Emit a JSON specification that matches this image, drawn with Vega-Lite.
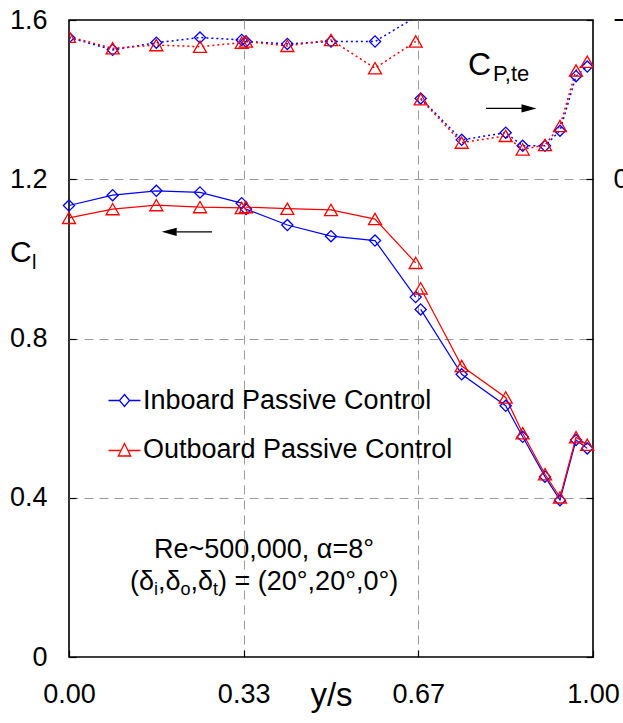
{
  "$schema": "https://vega.github.io/schema/vega-lite/v6.json",
  "width": 524,
  "height": 637,
  "autosize": {"type": "none"},
  "padding": {"left": 69, "top": 20, "right": 30, "bottom": 66},
  "background": "white",
  "config": {
    "font": "Liberation Sans",
    "view": {"stroke": "#000", "strokeWidth": 1.6},
    "axis": {
      "domain": false,
      "labelFont": "Liberation Sans",
      "labelFontSize": 27,
      "labelColor": "#000",
      "labelFlush": false,
      "tickColor": "#000",
      "tickSize": -7,
      "tickWidth": 1.2,
      "gridColor": "#9a9a9a",
      "gridDash": [9, 6],
      "gridWidth": 1,
      "titleFont": "Liberation Sans",
      "titleColor": "#000",
      "titleFontWeight": "normal"
    },
    "legend": {
      "orient": "none",
      "legendX": 42,
      "legendY": 367,
      "title": null,
      "labelFont": "Liberation Sans",
      "labelFontSize": 27,
      "labelColor": "#000",
      "labelLimit": 0,
      "symbolSize": 400,
      "symbolStrokeWidth": 1.3,
      "rowPadding": 21,
      "labelOffset": 5,
      "padding": 0
    }
  },
  "datasets": {
    "cl": [
      {"x": 0, "series": "Inboard Passive Control", "seg": "a", "cl": 1.134},
      {"x": 0.0833, "series": "Inboard Passive Control", "seg": "a", "cl": 1.160},
      {"x": 0.1667, "series": "Inboard Passive Control", "seg": "a", "cl": 1.171},
      {"x": 0.25, "series": "Inboard Passive Control", "seg": "a", "cl": 1.167},
      {"x": 0.3296, "series": "Inboard Passive Control", "seg": "a", "cl": 1.140},
      {"x": 0.3378, "series": "Inboard Passive Control", "seg": "b", "cl": 1.125},
      {"x": 0.4167, "series": "Inboard Passive Control", "seg": "b", "cl": 1.085},
      {"x": 0.5, "series": "Inboard Passive Control", "seg": "b", "cl": 1.057},
      {"x": 0.584, "series": "Inboard Passive Control", "seg": "b", "cl": 1.046},
      {"x": 0.6616, "series": "Inboard Passive Control", "seg": "b", "cl": 0.904},
      {"x": 0.6712, "series": "Inboard Passive Control", "seg": "c", "cl": 0.873},
      {"x": 0.7494, "series": "Inboard Passive Control", "seg": "c", "cl": 0.710},
      {"x": 0.8334, "series": "Inboard Passive Control", "seg": "c", "cl": 0.631},
      {"x": 0.8658, "series": "Inboard Passive Control", "seg": "c", "cl": 0.553},
      {"x": 0.9084, "series": "Inboard Passive Control", "seg": "c", "cl": 0.453},
      {"x": 0.937, "series": "Inboard Passive Control", "seg": "c", "cl": 0.394},
      {"x": 0.9676, "series": "Inboard Passive Control", "seg": "c", "cl": 0.545},
      {"x": 0.989, "series": "Inboard Passive Control", "seg": "c", "cl": 0.524},
      {"x": 0, "series": "Outboard Passive Control", "seg": "a", "cl": 1.103},
      {"x": 0.0833, "series": "Outboard Passive Control", "seg": "a", "cl": 1.125},
      {"x": 0.1667, "series": "Outboard Passive Control", "seg": "a", "cl": 1.135},
      {"x": 0.25, "series": "Outboard Passive Control", "seg": "a", "cl": 1.130},
      {"x": 0.3296, "series": "Outboard Passive Control", "seg": "a", "cl": 1.128},
      {"x": 0.3378, "series": "Outboard Passive Control", "seg": "b", "cl": 1.130},
      {"x": 0.4167, "series": "Outboard Passive Control", "seg": "b", "cl": 1.126},
      {"x": 0.5, "series": "Outboard Passive Control", "seg": "b", "cl": 1.123},
      {"x": 0.584, "series": "Outboard Passive Control", "seg": "b", "cl": 1.100},
      {"x": 0.6616, "series": "Outboard Passive Control", "seg": "b", "cl": 0.990},
      {"x": 0.6712, "series": "Outboard Passive Control", "seg": "c", "cl": 0.926},
      {"x": 0.7494, "series": "Outboard Passive Control", "seg": "c", "cl": 0.731},
      {"x": 0.8334, "series": "Outboard Passive Control", "seg": "c", "cl": 0.652},
      {"x": 0.8658, "series": "Outboard Passive Control", "seg": "c", "cl": 0.562},
      {"x": 0.9084, "series": "Outboard Passive Control", "seg": "c", "cl": 0.459},
      {"x": 0.937, "series": "Outboard Passive Control", "seg": "c", "cl": 0.401},
      {"x": 0.9676, "series": "Outboard Passive Control", "seg": "c", "cl": 0.552},
      {"x": 0.989, "series": "Outboard Passive Control", "seg": "c", "cl": 0.533}
    ],
    "cp": [
      {"x": 0, "series": "Inboard Passive Control", "seg": "a", "cp": -0.356},
      {"x": 0.0833, "series": "Inboard Passive Control", "seg": "a", "cp": -0.325},
      {"x": 0.1667, "series": "Inboard Passive Control", "seg": "a", "cp": -0.343},
      {"x": 0.25, "series": "Inboard Passive Control", "seg": "a", "cp": -0.356},
      {"x": 0.3296, "series": "Inboard Passive Control", "seg": "a", "cp": -0.350},
      {"x": 0.3378, "series": "Inboard Passive Control", "seg": "b", "cp": -0.346},
      {"x": 0.4167, "series": "Inboard Passive Control", "seg": "b", "cp": -0.340},
      {"x": 0.5, "series": "Inboard Passive Control", "seg": "b", "cp": -0.346},
      {"x": 0.584, "series": "Inboard Passive Control", "seg": "b", "cp": -0.346},
      {"x": 0.6712, "series": "Inboard Passive Control", "seg": "b", "cp": -0.415},
      {"x": 0.6712, "series": "Inboard Passive Control", "seg": "c", "cp": -0.203},
      {"x": 0.7494, "series": "Inboard Passive Control", "seg": "c", "cp": -0.099},
      {"x": 0.8334, "series": "Inboard Passive Control", "seg": "c", "cp": -0.117},
      {"x": 0.8658, "series": "Inboard Passive Control", "seg": "c", "cp": -0.084},
      {"x": 0.9084, "series": "Inboard Passive Control", "seg": "c", "cp": -0.084},
      {"x": 0.937, "series": "Inboard Passive Control", "seg": "c", "cp": -0.122},
      {"x": 0.9676, "series": "Inboard Passive Control", "seg": "c", "cp": -0.259},
      {"x": 0.989, "series": "Inboard Passive Control", "seg": "c", "cp": -0.283},
      {"x": 0, "series": "Outboard Passive Control", "seg": "a", "cp": -0.358},
      {"x": 0.0833, "series": "Outboard Passive Control", "seg": "a", "cp": -0.329},
      {"x": 0.1667, "series": "Outboard Passive Control", "seg": "a", "cp": -0.337},
      {"x": 0.25, "series": "Outboard Passive Control", "seg": "a", "cp": -0.333},
      {"x": 0.3296, "series": "Outboard Passive Control", "seg": "a", "cp": -0.343},
      {"x": 0.3378, "series": "Outboard Passive Control", "seg": "b", "cp": -0.346},
      {"x": 0.4167, "series": "Outboard Passive Control", "seg": "b", "cp": -0.335},
      {"x": 0.5, "series": "Outboard Passive Control", "seg": "b", "cp": -0.350},
      {"x": 0.584, "series": "Outboard Passive Control", "seg": "b", "cp": -0.279},
      {"x": 0.6616, "series": "Outboard Passive Control", "seg": "b", "cp": -0.346},
      {"x": 0.6712, "series": "Outboard Passive Control", "seg": "c", "cp": -0.201},
      {"x": 0.7494, "series": "Outboard Passive Control", "seg": "c", "cp": -0.092},
      {"x": 0.8334, "series": "Outboard Passive Control", "seg": "c", "cp": -0.109},
      {"x": 0.8658, "series": "Outboard Passive Control", "seg": "c", "cp": -0.075},
      {"x": 0.9084, "series": "Outboard Passive Control", "seg": "c", "cp": -0.086},
      {"x": 0.937, "series": "Outboard Passive Control", "seg": "c", "cp": -0.134},
      {"x": 0.9676, "series": "Outboard Passive Control", "seg": "c", "cp": -0.273},
      {"x": 0.989, "series": "Outboard Passive Control", "seg": "c", "cp": -0.295}
    ]
  },
  "layer": [
    {
      "layer": [
        {
          "data": {"name": "cl"},
          "mark": {"type": "line", "strokeWidth": 1.2},
          "encoding": {
            "x": {
              "field": "x", "type": "quantitative",
              "scale": {"domain": [0, 1], "nice": false, "zero": false},
              "axis": {
                "values": [0, 0.3333, 0.6667, 1],
                "labelExpr": "format(datum.value, '.2f')",
                "labelPadding": 31,
                "labelFlush": false,
                "title": "y/s",
                "titleFontSize": 33,
                "titleBaseline": "alphabetic",
                "titleY": 48,
                "gridOpacity": {"condition": {"test": "datum.value <= 0 || datum.value >= 1", "value": 0}, "value": 1}
              }
            },
            "y": {
              "field": "cl", "type": "quantitative",
              "scale": {"domain": [0, 1.6], "nice": false, "zero": false},
              "axis": {
                "values": [0, 0.4, 0.8, 1.2, 1.6],
                "labelExpr": "datum.value == 0 ? '0' : format(datum.value, '.1f')",
                "labelPadding": 29,
                "labelFlush": false,
                "title": null,
                "gridOpacity": {"condition": {"test": "datum.value <= 0 || datum.value >= 1.6", "value": 0}, "value": 1}
              }
            },
            "color": {
              "field": "series", "type": "nominal",
              "scale": {"domain": ["Inboard Passive Control", "Outboard Passive Control"], "range": ["#0000ff", "#ff0000"]},
              "legend": {
                "labelLimit": 0,
                "encode": {
                  "symbols": {
                    "update": {
                      "shape": {"signal": "datum.value == 'Inboard Passive Control' ? 'M-1.6,0L-0.5,0M0.5,0L1.6,0M0,-0.6L0.5,0L0,0.6L-0.5,0Z' : 'M-1.6,0.1L-0.38,0.1M0.38,0.1L1.6,0.1M0,-0.6L0.62,0.65L-0.62,0.65Z'"},
                      "fill": {"value": "transparent"},
                      "strokeWidth": {"value": 1.3}
                    }
                  }
                }
              }
            },
            "detail": {"field": "seg", "type": "nominal"}
          }
        },
        {
          "data": {"name": "cl"},
          "transform": [{"filter": "datum.series == 'Inboard Passive Control'"}],
          "mark": {"type": "point", "shape": "diamond", "size": 125, "filled": false, "strokeWidth": 1.3, "opacity": 1},
          "encoding": {
            "x": {"field": "x", "type": "quantitative", "scale": {"domain": [0, 1]}},
            "y": {"field": "cl", "type": "quantitative", "scale": {"domain": [0, 1.6]}},
            "color": {"field": "series", "type": "nominal"}
          }
        },
        {
          "data": {"name": "cl"},
          "transform": [{"filter": "datum.series == 'Outboard Passive Control'"}],
          "mark": {"type": "point", "shape": "triangle-up", "size": 170, "filled": false, "strokeWidth": 1.3, "opacity": 1},
          "encoding": {
            "x": {"field": "x", "type": "quantitative", "scale": {"domain": [0, 1]}},
            "y": {"field": "cl", "type": "quantitative", "scale": {"domain": [0, 1.6]}},
            "color": {"field": "series", "type": "nominal"}
          }
        },
        {
          "data": {"values": [{}]},
          "mark": {"type": "rule", "color": "#000", "strokeWidth": 1.3},
          "encoding": {
            "x": {"datum": 0.205, "type": "quantitative", "scale": {"domain": [0, 1]}},
            "x2": {"datum": 0.273},
            "y": {"datum": 1.068, "type": "quantitative", "scale": {"domain": [0, 1.6]}}
          }
        },
        {
          "data": {"values": [{}]},
          "mark": {"type": "point", "shape": "M1,-0.55L-1,0L1,0.55Z", "size": 225, "filled": true, "color": "#000", "opacity": 1},
          "encoding": {
            "x": {"datum": 0.1912, "type": "quantitative", "scale": {"domain": [0, 1]}},
            "y": {"datum": 1.068, "type": "quantitative", "scale": {"domain": [0, 1.6]}}
          }
        },
        {
          "data": {"values": [{}]},
          "mark": {"type": "rule", "color": "#000", "strokeWidth": 1.3},
          "encoding": {
            "x": {"datum": 0.7958, "type": "quantitative", "scale": {"domain": [0, 1]}},
            "x2": {"datum": 0.87},
            "y": {"datum": 1.378, "type": "quantitative", "scale": {"domain": [0, 1.6]}}
          }
        },
        {
          "data": {"values": [{}]},
          "mark": {"type": "point", "shape": "M-1,-0.55L1,0L-1,0.55Z", "size": 225, "filled": true, "color": "#000", "opacity": 1},
          "encoding": {
            "x": {"datum": 0.8779, "type": "quantitative", "scale": {"domain": [0, 1]}},
            "y": {"datum": 1.378, "type": "quantitative", "scale": {"domain": [0, 1.6]}}
          }
        },
        {
          "data": {"values": [{}]},
          "mark": {"type": "text", "text": "C", "fontSize": 30, "align": "left", "baseline": "alphabetic", "color": "#000", "font": "Liberation Sans"},
          "encoding": {
            "x": {"datum": -0.1126, "type": "quantitative", "scale": {"domain": [0, 1]}},
            "y": {"datum": 0.992, "type": "quantitative", "scale": {"domain": [0, 1.6]}}
          }
        },
        {
          "data": {"values": [{}]},
          "mark": {"type": "text", "text": "l", "fontSize": 20, "align": "left", "baseline": "alphabetic", "color": "#000", "font": "Liberation Sans"},
          "encoding": {
            "x": {"datum": -0.0706, "type": "quantitative", "scale": {"domain": [0, 1]}},
            "y": {"datum": 0.975, "type": "quantitative", "scale": {"domain": [0, 1.6]}}
          }
        },
        {
          "data": {"values": [{}]},
          "mark": {"type": "text", "text": "C", "fontSize": 32, "align": "left", "baseline": "alphabetic", "color": "#000", "font": "Liberation Sans"},
          "encoding": {
            "x": {"datum": 0.7615, "type": "quantitative", "scale": {"domain": [0, 1]}},
            "y": {"datum": 1.462, "type": "quantitative", "scale": {"domain": [0, 1.6]}}
          }
        },
        {
          "data": {"values": [{}]},
          "mark": {"type": "text", "text": "P,te", "fontSize": 22, "align": "left", "baseline": "alphabetic", "color": "#000", "font": "Liberation Sans"},
          "encoding": {
            "x": {"datum": 0.8092, "type": "quantitative", "scale": {"domain": [0, 1]}},
            "y": {"datum": 1.447, "type": "quantitative", "scale": {"domain": [0, 1.6]}}
          }
        },
        {
          "data": {"values": [{}]},
          "mark": {"type": "text", "text": "Re~500,000, α=8°", "fontSize": 27, "align": "center", "baseline": "alphabetic", "color": "#000", "font": "Liberation Sans"},
          "encoding": {
            "x": {"datum": 0.372, "type": "quantitative", "scale": {"domain": [0, 1]}},
            "y": {"datum": 0.2487, "type": "quantitative", "scale": {"domain": [0, 1.6]}}
          }
        },
        {
          "data": {"values": [{}]},
          "mark": {"type": "text", "text": "(δ", "fontSize": 27, "align": "left", "baseline": "alphabetic", "color": "#000", "font": "Liberation Sans"},
          "encoding": {
            "x": {"datum": 0.1164, "type": "quantitative", "scale": {"domain": [0, 1]}},
            "y": {"datum": 0.168, "type": "quantitative", "scale": {"domain": [0, 1.6]}}
          }
        },
        {
          "data": {"values": [{}]},
          "mark": {"type": "text", "text": "i", "fontSize": 18, "align": "left", "baseline": "alphabetic", "color": "#000", "font": "Liberation Sans"},
          "encoding": {
            "x": {"datum": 0.1622, "type": "quantitative", "scale": {"domain": [0, 1]}},
            "y": {"datum": 0.156, "type": "quantitative", "scale": {"domain": [0, 1.6]}}
          }
        },
        {
          "data": {"values": [{}]},
          "mark": {"type": "text", "text": ",δ", "fontSize": 27, "align": "left", "baseline": "alphabetic", "color": "#000", "font": "Liberation Sans"},
          "encoding": {
            "x": {"datum": 0.1698, "type": "quantitative", "scale": {"domain": [0, 1]}},
            "y": {"datum": 0.168, "type": "quantitative", "scale": {"domain": [0, 1.6]}}
          }
        },
        {
          "data": {"values": [{}]},
          "mark": {"type": "text", "text": "o", "fontSize": 18, "align": "left", "baseline": "alphabetic", "color": "#000", "font": "Liberation Sans"},
          "encoding": {
            "x": {"datum": 0.2128, "type": "quantitative", "scale": {"domain": [0, 1]}},
            "y": {"datum": 0.156, "type": "quantitative", "scale": {"domain": [0, 1.6]}}
          }
        },
        {
          "data": {"values": [{}]},
          "mark": {"type": "text", "text": ",δ", "fontSize": 27, "align": "left", "baseline": "alphabetic", "color": "#000", "font": "Liberation Sans"},
          "encoding": {
            "x": {"datum": 0.2319, "type": "quantitative", "scale": {"domain": [0, 1]}},
            "y": {"datum": 0.168, "type": "quantitative", "scale": {"domain": [0, 1.6]}}
          }
        },
        {
          "data": {"values": [{}]},
          "mark": {"type": "text", "text": "t", "fontSize": 18, "align": "left", "baseline": "alphabetic", "color": "#000", "font": "Liberation Sans"},
          "encoding": {
            "x": {"datum": 0.2748, "type": "quantitative", "scale": {"domain": [0, 1]}},
            "y": {"datum": 0.156, "type": "quantitative", "scale": {"domain": [0, 1.6]}}
          }
        },
        {
          "data": {"values": [{}]},
          "mark": {"type": "text", "text": ") = (20°,20°,0°)", "fontSize": 27, "align": "left", "baseline": "alphabetic", "color": "#000", "font": "Liberation Sans"},
          "encoding": {
            "x": {"datum": 0.2844, "type": "quantitative", "scale": {"domain": [0, 1]}},
            "y": {"datum": 0.168, "type": "quantitative", "scale": {"domain": [0, 1.6]}}
          }
        }
      ]
    },
    {
      "data": {"name": "cp"},
      "layer": [
        {
          "mark": {"type": "line", "strokeWidth": 1.5, "strokeDash": [2, 3], "clip": true},
          "encoding": {
            "x": {"field": "x", "type": "quantitative", "scale": {"domain": [0, 1]}},
            "y": {
              "field": "cp", "type": "quantitative",
              "scale": {"domain": [-0.4, 1.2], "reverse": true, "nice": false, "zero": false},
              "axis": {
                "orient": "right",
                "values": [-0.4, 0, 0.4, 0.8, 1.2],
                "labelExpr": "datum.value <= 0 ? format(datum.value, '.1f') : ''",
                "labelAlign": "left",
                "labelPadding": 27,
                "labelFlush": false,
                "grid": false,
                "title": null
              }
            },
            "color": {"field": "series", "type": "nominal", "legend": null},
            "detail": {"field": "seg", "type": "nominal"}
          }
        },
        {
          "transform": [{"filter": "datum.series == 'Inboard Passive Control'"}],
          "mark": {"type": "point", "shape": "diamond", "size": 125, "filled": false, "strokeWidth": 1.3, "opacity": 1, "clip": true},
          "encoding": {
            "x": {"field": "x", "type": "quantitative", "scale": {"domain": [0, 1]}},
            "y": {"field": "cp", "type": "quantitative"},
            "color": {"field": "series", "type": "nominal", "legend": null}
          }
        },
        {
          "transform": [{"filter": "datum.series == 'Outboard Passive Control'"}],
          "mark": {"type": "point", "shape": "triangle-up", "size": 170, "filled": false, "strokeWidth": 1.3, "opacity": 1, "clip": true},
          "encoding": {
            "x": {"field": "x", "type": "quantitative", "scale": {"domain": [0, 1]}},
            "y": {"field": "cp", "type": "quantitative"},
            "color": {"field": "series", "type": "nominal", "legend": null}
          }
        }
      ]
    }
  ],
  "resolve": {"scale": {"y": "independent"}}
}
